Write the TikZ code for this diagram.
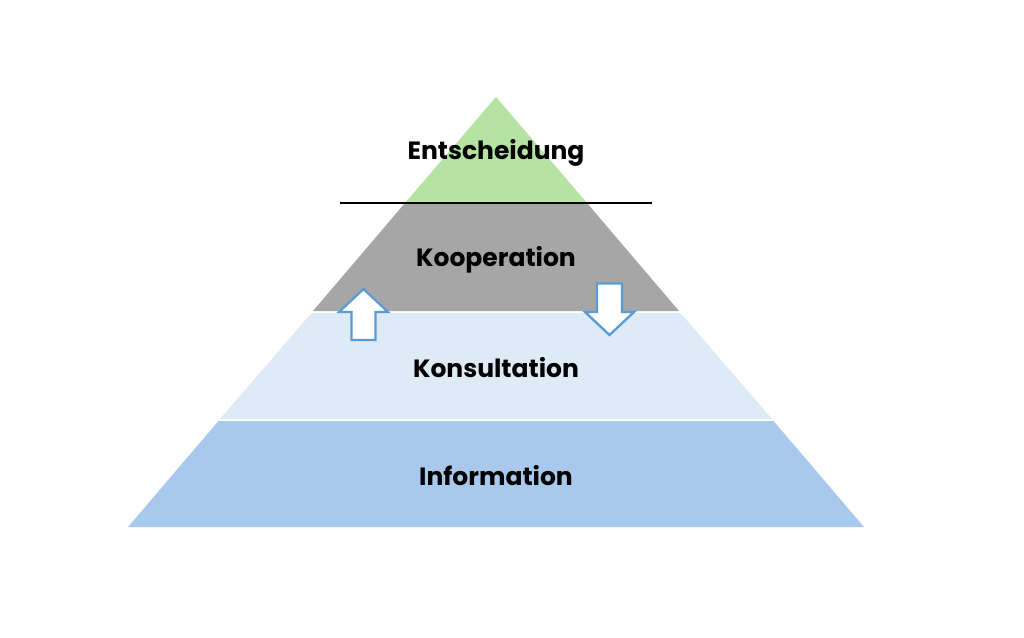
\documentclass[tikz,border=0pt]{standalone}
\usepackage{fontspec}
\setmainfont{Poppins}[UprightFont=*-Regular,BoldFont=*-Bold]
\definecolor{cgreen}{HTML}{B4E3A2}
\definecolor{cgray}{HTML}{A6A6A6}
\definecolor{clight}{HTML}{DEEAF6}
\definecolor{cblue}{HTML}{A8C9EB}
\definecolor{carrow}{HTML}{5B9BD5}
\tikzset{
  lbl/.style={font=\fontsize{25}{27}\selectfont\bfseries, text=black, inner sep=0pt},
  arrowshape/.style={draw=carrow, line width=2.3pt, fill=white, line join=miter},
}
\begin{document}
\begin{tikzpicture}[x=1pt,y=-1pt]
\useasboundingbox (0,0) rectangle (1024,637);
% apex (496,97); slope 0.856
\fill[cgreen] (496,97) -- (587,203) -- (405,203) -- cycle;
\fill[cgray] (405,203) -- (587,203) -- (679,311) -- (313,311) -- cycle;
\fill[clight] (311.5,313) -- (680.5,313) -- (772,419) -- (220,419) -- cycle;
\fill[cblue] (218.5,421) -- (773.5,421) -- (864,527) -- (128,527) -- cycle;
\coordinate (l1) at (340,203);
\coordinate (l2) at (652,203);
\draw[line width=2pt] (l1) -- (l2);
\node[lbl] (ent) at (496,152.5) {Entscheidung};
\node[lbl] (koop) at (496,259.5) {Kooperation};
\node[lbl] (kons) at (496,367.5) {Konsultation};
\node[lbl] (info) at (496,475.5) {Information};
% up arrow
\draw[arrowshape] (363.5,289) -- (388,312) -- (375.5,312) -- (375.5,340) -- (351.5,340) -- (351.5,312) -- (339,312) -- cycle;
% down arrow
\draw[arrowshape] (609.5,335) -- (634,312) -- (622,312) -- (622,283.5) -- (597,283.5) -- (597,312) -- (585,312) -- cycle;
\end{tikzpicture}
\end{document}
